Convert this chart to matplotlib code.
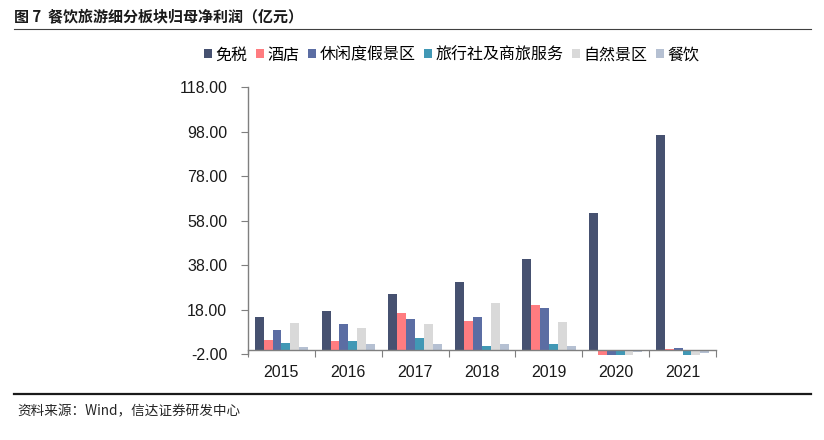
import matplotlib
matplotlib.use("Agg")
import matplotlib.pyplot as plt
from matplotlib.patches import Patch
from matplotlib.lines import Line2D
import numpy as np

plt.rcParams['font.family'] = ['Liberation Sans', 'Noto Sans CJK SC', 'DejaVu Sans']

years = ["2015", "2016", "2017", "2018", "2019", "2020", "2021"]
series_names = ["免税", "酒店", "休闲度假景区", "旅行社及商旅服务", "自然景区", "餐饮"]
duty_free = [14.5, 17.2, 25.0, 30.4, 40.8, 61.5, 96.6]
hotel = [4.3, 4.0, 16.6, 13.0, 20.1, -2.5, 0.1]
leisure = [8.8, 11.4, 13.8, 14.7, 18.9, -2.5, 0.9]
travel_agency = [3.0, 4.0, 5.4, 1.8, 2.5, -2.5, -2.5]
natural_scenic = [12.1, 9.9, 11.7, 21.0, 12.4, -2.5, -2.5]
catering = [1.2, 2.5, 2.5, 2.5, 1.8, -0.9, -1.7]
yticks = [-2, 18, 38, 58, 78, 98, 118]

series = [duty_free, hotel, leisure, travel_agency, natural_scenic, catering]
colors = ["#465170", "#FF7C80", "#5B6DA3", "#4198B5", "#D9D9D9", "#B5C0D2"]

fig = plt.figure(figsize=(8.24, 4.4), dpi=100)
ax = fig.add_axes([248/824, 1-354/440, 468/824, (354-87.3)/440])

x = np.arange(len(years))
bw = 0.133
for i, (vals, c) in enumerate(zip(series, colors)):
    bars = ax.bar(x + (i - 2.5) * bw, vals, width=bw, color=c, linewidth=0, zorder=2)
    for b in bars:
        b.set_clip_on(False)

ax.set_ylim(-2, 118)
ax.set_xlim(-0.5, len(years) - 0.5)
ax.set_yticks(yticks)
ax.set_yticklabels([f"{v:.2f}" for v in yticks])

ax.spines['top'].set_visible(False)
ax.spines['right'].set_visible(False)
ax.spines['bottom'].set_position(('data', 0))
for s in ['left', 'bottom']:
    ax.spines[s].set_color('#7f7f7f')
    ax.spines[s].set_linewidth(1.0)

ax.set_xticks(np.arange(-0.5, len(years), 1.0))
ax.set_xticklabels([])
ax.set_xticks(x, minor=True)
ax.set_xticklabels(years, minor=True)
ax.tick_params(axis='x', which='major', length=5, direction='out', color='#7f7f7f')
ax.tick_params(axis='x', which='minor', length=0, pad=11, labelsize=11.5, labelcolor='#1a1a1a')
ax.tick_params(axis='y', length=5, direction='out', color='#7f7f7f', labelsize=11.5,
               labelcolor='#1a1a1a', pad=10)

handles = [Patch(facecolor=c, edgecolor='none') for c in colors]
fig.legend(handles, series_names, loc='center', bbox_to_anchor=(452/824, 1-55/440),
           ncol=6, frameon=False, handlelength=0.5, handleheight=0.5,
           handletextpad=0.2, columnspacing=0.55,
           prop={'family': ['Noto Sans CJK SC'], 'size': 11.5})

fig.text(14/824, 1-16/440, "图 7  餐饮旅游细分板块归母净利润（亿元）", fontsize=10.8,
         fontweight='bold', family=['Noto Sans CJK SC'], va='center', ha='left', color='#1a1a1a')
fig.add_artist(Line2D([14/824, 811/824], [1-29/440, 1-29/440], color='#404040', linewidth=0.8))
fig.add_artist(Line2D([14/824, 811/824], [1-394/440, 1-394/440], color='#1a1a1a', linewidth=1.6))
fig.text(17/824, 1-411/440, "资料来源：Wind，信达证券研发中心", fontsize=9.8,
         family=['Noto Sans CJK SC', 'DejaVu Sans'], va='center', ha='left', color='#262626')

fig.savefig("out.png", dpi=100)
